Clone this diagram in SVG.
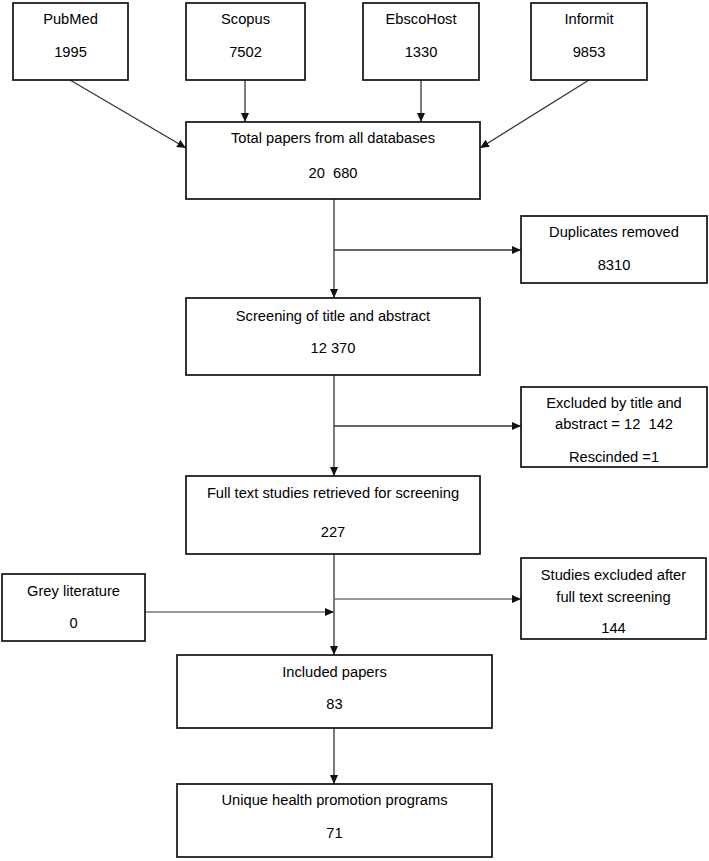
<svg xmlns="http://www.w3.org/2000/svg" width="709" height="861" viewBox="0 0 709 861">
<style>
.box{fill:#fff;stroke:#111;stroke-width:1.7}
.t{font-family:"Liberation Sans",Arial,sans-serif;font-size:14.7px;fill:#000;text-anchor:middle;white-space:pre}
.c{fill:none;stroke:#333;stroke-width:1.3}
.g{fill:none;stroke:#777;stroke-width:1.4}
</style>
<defs>
<marker id="ah" markerUnits="userSpaceOnUse" markerWidth="10" markerHeight="10" refX="9" refY="5" orient="auto">
<path d="M0,1 L9,5 L0,9 Z" fill="#111"/>
</marker>
</defs>
<rect width="709" height="861" fill="#fff"/>
<g id="connectors">
<line class="c" x1="70" y1="80" x2="186" y2="148" marker-end="url(#ah)"/>
<line class="c" x1="245" y1="80" x2="245" y2="122" marker-end="url(#ah)"/>
<line class="c" x1="421" y1="80" x2="421" y2="122" marker-end="url(#ah)"/>
<line class="c" x1="589" y1="80" x2="480" y2="148" marker-end="url(#ah)"/>
<line class="c" x1="334" y1="199" x2="334" y2="298" marker-end="url(#ah)"/>
<line class="c" x1="334" y1="250" x2="521" y2="250" marker-end="url(#ah)"/>
<line class="c" x1="334" y1="375" x2="334" y2="476" marker-end="url(#ah)"/>
<line class="c" x1="334" y1="426" x2="521" y2="426" marker-end="url(#ah)"/>
<line class="c" x1="334" y1="554" x2="334" y2="655" marker-end="url(#ah)"/>
<line class="g" x1="334" y1="599" x2="521" y2="599" marker-end="url(#ah)"/>
<line class="g" x1="145" y1="612" x2="334" y2="612" marker-end="url(#ah)"/>
<line class="c" x1="334" y1="728" x2="334" y2="784" marker-end="url(#ah)"/>
</g>
<g id="pubmed"><rect class="box" x="13" y="3" width="115" height="77"/><text class="t" x="70.5" y="24">PubMed</text><text class="t" x="70.5" y="57">1995</text></g>
<g id="scopus"><rect class="box" x="186" y="3" width="119" height="77"/><text class="t" x="245.5" y="24">Scopus</text><text class="t" x="245.5" y="57">7502</text></g>
<g id="ebscohost"><rect class="box" x="363" y="3" width="116" height="77"/><text class="t" x="421" y="24">EbscoHost</text><text class="t" x="421" y="57">1330</text></g>
<g id="informit"><rect class="box" x="531" y="3" width="116" height="77"/><text class="t" x="589" y="24">Informit</text><text class="t" x="589" y="57">9853</text></g>
<g id="total"><rect class="box" x="186" y="122" width="294" height="77"/><text class="t" x="333" y="143">Total papers from all databases</text><text class="t" x="333" y="178">20  680</text></g>
<g id="duplicates"><rect class="box" x="521" y="216" width="186" height="67"/><text class="t" x="614" y="237">Duplicates removed</text><text class="t" x="614" y="270">8310</text></g>
<g id="screening"><rect class="box" x="186" y="298" width="294" height="77"/><text class="t" x="333" y="321">Screening of title and abstract</text><text class="t" x="333" y="353">12 370</text></g>
<g id="excluded"><rect class="box" x="521" y="387" width="186" height="80"/><text class="t" x="614" y="408">Excluded by title and</text><text class="t" x="614" y="429">abstract = 12  142</text><text class="t" x="614" y="462">Rescinded =1</text></g>
<g id="fulltext"><rect class="box" x="186" y="476" width="294" height="78"/><text class="t" x="333" y="498">Full text studies retrieved for screening</text><text class="t" x="333" y="537">227</text></g>
<g id="grey"><rect class="box" x="2" y="574" width="143" height="67"/><text class="t" x="73.5" y="596">Grey literature</text><text class="t" x="73.5" y="628">0</text></g>
<g id="studiesexcluded"><rect class="box" x="521" y="558" width="185" height="81"/><text class="t" x="613.5" y="580">Studies excluded after</text><text class="t" x="613.5" y="602">full text screening</text><text class="t" x="613.5" y="633">144</text></g>
<g id="included"><rect class="box" x="177" y="655" width="315" height="73"/><text class="t" x="334.5" y="677">Included papers</text><text class="t" x="334.5" y="709">83</text></g>
<g id="unique"><rect class="box" x="177" y="784" width="315" height="73"/><text class="t" x="334.5" y="805">Unique health promotion programs</text><text class="t" x="334.5" y="838">71</text></g>
</svg>
